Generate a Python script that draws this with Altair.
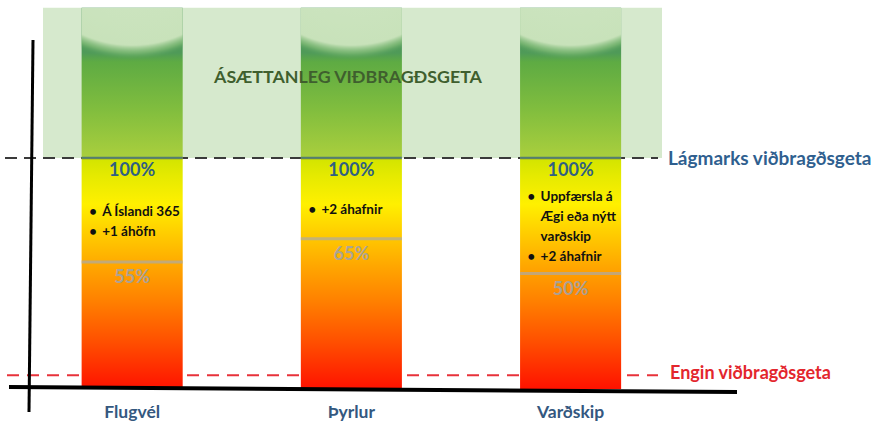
import altair as alt
import pandas as pd

# ---------------- data ----------------
categories = ["Flugvél", "Þyrlur", "Varðskip"]
current_level = [55, 65, 50]          # grey line / grey % label
minimum_level = [100, 100, 100]       # "Lágmarks viðbragðsgeta"
acceptable_top = 165                  # top of the "ásættanleg" zone
none_level = 6                        # "Engin viðbragðsgeta"

line_cat = ["Flugvél", "Flugvél", "Þyrlur", "Varðskip", "Varðskip", "Varðskip", "Varðskip"]
line_text = ["Á Íslandi 365", "+1 áhöfn", "+2 áhafnir", "Uppfærsla á", "Ægi eða nýtt", "varðskip", "+2 áhafnir"]
line_bullet = [True, True, True, True, False, False, True]

zone_label = "ÁSÆTTANLEG VIÐBRAGÐSGETA"
min_label = "Lágmarks viðbragðsgeta"
none_label = "Engin viðbragðsgeta"

FONT = "Lato"

# ---------------- tables ----------------
bars = pd.DataFrame({"cat": categories, "cur": current_level, "minv": minimum_level,
                     "base": 0, "top": acceptable_top})
bars["cur_label"] = [f"{v}%" for v in current_level]
bars["min_label"] = [f"{v}%" for v in minimum_level]

lines = pd.DataFrame({"cat": line_cat, "text": line_text, "bullet": line_bullet})
lines["i"] = lines.groupby("cat").cumcount()
lines["n"] = lines.groupby("cat")["cat"].transform("count")
lvl = dict(zip(categories, current_level))
step = 8.66
lines["y"] = [((90 + lvl[c]) / 2) + ((n - 1) / 2 - i) * step
              for c, n, i in zip(lines["cat"], lines["n"], lines["i"])]
bul = lines[lines["bullet"]].copy()
bul["dot"] = "•"

refs = pd.DataFrame({"v": [acceptable_top], "v2": [100]})

xscale = alt.Scale(domain=categories, range=[22.5, 680.25], paddingInner=0.539, paddingOuter=0.2697)
yscale = alt.Scale(domain=[0, 100], range=[389, 158], zero=False, nice=False)

def X(field="cat"):
    return alt.X(f"{field}:N", scale=xscale, axis=None, sort=categories)

def Y(field):
    return alt.Y(f"{field}:Q", scale=yscale, axis=None)

# ---------------- gradients ----------------
lower_grad = alt.LinearGradient(
    gradient="linear", x1=0, y1=0, x2=0, y2=1,
    stops=[
        alt.GradientStop(offset=0.0, color="#d2e400"),
        alt.GradientStop(offset=0.08, color="#e6ea00"),
        alt.GradientStop(offset=0.2, color="#fff000"),
        alt.GradientStop(offset=0.33, color="#ffcc00"),
        alt.GradientStop(offset=0.47, color="#ffa600"),
        alt.GradientStop(offset=0.62, color="#ff8000"),
        alt.GradientStop(offset=0.8, color="#ff4e00"),
        alt.GradientStop(offset=1.0, color="#ff1200"),
    ])
green_grad = alt.LinearGradient(
    gradient="linear", x1=0, y1=0, x2=0, y2=1,
    stops=[
        alt.GradientStop(offset=0.0, color="#4e9660"),
        alt.GradientStop(offset=0.30, color="#4f9a58"),
        alt.GradientStop(offset=0.36, color="#5eab43"),
        alt.GradientStop(offset=0.67, color="#80bd3e"),
        alt.GradientStop(offset=1.0, color="#aacf3d"),
    ])
halo_grad = alt.RadialGradient(
    gradient="radial", x1=0.5, y1=-0.553, x2=0.5, y2=-0.553, r1=0, r2=0.9,
    stops=[
        alt.GradientStop(offset=0.0, color="rgba(210,231,200,1)"),
        alt.GradientStop(offset=0.89, color="rgba(200,226,186,1)"),
        alt.GradientStop(offset=0.95, color="rgba(140,195,125,0.6)"),
        alt.GradientStop(offset=1.0, color="rgba(80,155,90,0)"),
    ])

# ---------------- layers ----------------
bg = alt.Chart(refs).mark_rect(color="#d6e9cd").encode(
    x=alt.value(43), x2=alt.value(662), y=Y("v"), y2="v2:Q")

ref_df = pd.DataFrame({"v": [100], "lab": [min_label]})
none_df = pd.DataFrame({"v": [none_level], "lab": [none_label]})

min_rule = alt.Chart(ref_df).mark_rule(color="#3a3a3a", strokeWidth=2, strokeDash=[12, 7]).encode(
    x=alt.value(5), x2=alt.value(658), y=Y("v"))
none_rule = alt.Chart(none_df).mark_rule(color="#e8323a", strokeWidth=2, strokeDash=[12, 8]).encode(
    x=alt.value(7), x2=alt.value(658), y=Y("v"))

lower = alt.Chart(bars).mark_bar(color=lower_grad).encode(x=X(), y=Y("base"), y2="minv:Q")
green = alt.Chart(bars).mark_bar(color=green_grad).encode(x=X(), y=Y("top"), y2="minv:Q")
halo = alt.Chart(bars).mark_bar(color=halo_grad).encode(x=X(), y=Y("top"), y2="minv:Q")

min_tick = alt.Chart(bars).mark_tick(color="#2f5b88", thickness=2.5, size=101).encode(x=X(), y=Y("minv"))
cur_tick = alt.Chart(bars).mark_tick(color="#a9a9a9", thickness=3, size=101).encode(x=X(), y=Y("cur"))

min_txt = alt.Chart(bars).mark_text(font=FONT, fontSize=18, fontWeight="bold", color="#2f6082",
                                     baseline="middle", dy=13).encode(x=X(), y=Y("minv"), text="min_label:N")
cur_txt = alt.Chart(bars).mark_text(font=FONT, fontSize=18, fontWeight="bold", color="#a3a3a3",
                                     baseline="middle", dy=16, opacity=0.9).encode(x=X(), y=Y("cur"), text="cur_label:N")

dots = alt.Chart(bul).mark_text(font=FONT, fontSize=13, fontWeight="bold", color="#111111",
                                align="left", baseline="middle", dx=-43).encode(x=X(), y=Y("y"), text="dot:N")
ltxt = alt.Chart(lines).mark_text(font=FONT, fontSize=13.5, fontWeight="bold", color="#111111",
                                  align="left", baseline="middle", dx=-30).encode(x=X(), y=Y("y"), text="text:N")

cat_df = pd.DataFrame({"cat": categories, "base": 0})
cat_txt = alt.Chart(cat_df).mark_text(font=FONT, fontSize=17.5, fontWeight="bold", color="#34587f",
                                      baseline="middle", dy=24).encode(x=X(), y=Y("base"), text="cat:N")

zone_df = pd.DataFrame({"v": [(acceptable_top + 100) / 2], "lab": [zone_label]})
zone_txt = alt.Chart(zone_df).mark_text(font=FONT, fontSize=17.8, fontWeight="bold", color="#3f5f2e",
                                        baseline="middle", dy=-5).encode(x=alt.value(348), y=Y("v"), text="lab:N")

min_lab = alt.Chart(ref_df).mark_text(font=FONT, fontSize=19, fontWeight="bold", color="#2f5f8f",
                                      align="left", baseline="middle", dy=1).encode(x=alt.value(668), y=Y("v"), text="lab:N")
none_lab = alt.Chart(none_df).mark_text(font=FONT, fontSize=18, fontWeight="bold", color="#e3262d",
                                        align="left", baseline="middle", dy=-1).encode(x=alt.value(670), y=Y("v"), text="lab:N")

axis_df = pd.DataFrame({"v": [0]})
v_axis = alt.Chart(axis_df).mark_rule(color="black", strokeWidth=3).encode(
    x=alt.value(33), x2=alt.value(29), y=alt.value(40), y2=alt.value(412))
h_axis = alt.Chart(axis_df).mark_rule(color="black", strokeWidth=4).encode(
    x=alt.value(9), x2=alt.value(737), y=alt.value(387), y2=alt.value(392))

chart = alt.layer(
    bg, min_rule, none_rule, lower, green, halo, min_tick, cur_tick,
    min_txt, cur_txt, dots, ltxt, cat_txt, zone_txt, min_lab, none_lab, v_axis, h_axis
).properties(
    width=874, height=426, padding=0,
    autosize=alt.AutoSizeParams(type="none"),
    background="white"
).configure_view(stroke=None)

chart.save("out.html", embed_options={"renderer": "svg", "actions": False})
